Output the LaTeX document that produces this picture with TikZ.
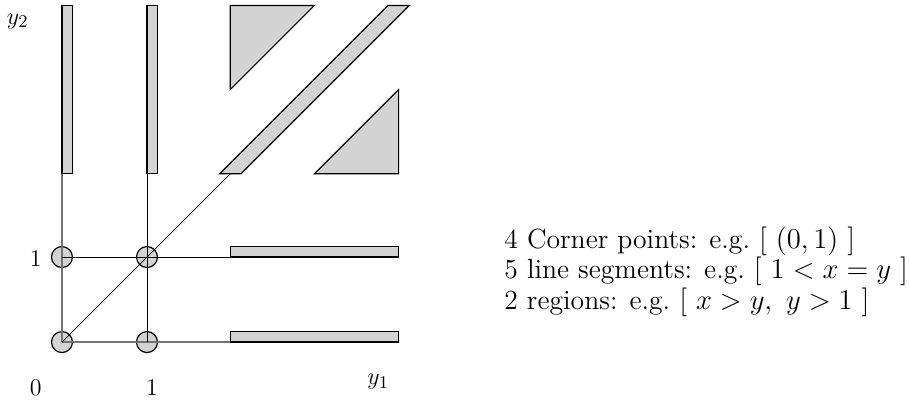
\documentclass[tikz,border=0pt]{standalone}
\definecolor{shade}{RGB}{211,211,211}
\begin{document}
\begin{tikzpicture}[x=1.5cm,y=1.5cm,
  region/.style={draw,fill=shade,line width=0.6pt},
  corner/.style={circle,draw,fill=shade,inner sep=0pt,minimum size=0.37cm,line width=0.6pt},
  axis/.style={draw=black!55,line width=0.6pt},
  every node/.style={font=\fontsize{13}{12.4}\selectfont}]
  \useasboundingbox (-0.729,-0.718) rectangle (9.976,4.024);
  \draw[region] (0,1.98) rectangle (0.12,3.96);
  \draw[region] (1,1.98) rectangle (1.12,3.96);
  \draw[region] (1.98,1) rectangle (3.96,1.12);
  \draw[region] (1.98,0) rectangle (3.96,0.12);
  \draw[region] (1.855,1.98) -- (2.105,1.98) -- (4.085,3.96) -- (3.835,3.96) -- cycle;
  \draw[region] (1.98,3.96) -- (2.97,3.96) -- (1.98,2.97) -- cycle;
  \draw[region] (3.96,2.97) -- (3.96,1.98) -- (2.97,1.98) -- cycle;
  \node[corner] (p00) at (0,0) {};
  \node[corner] (p10) at (1,0) {};
  \node[corner] (p01) at (0,1) {};
  \node[corner] (p11) at (1,1) {};
  \coordinate (up0) at (0,1.98);
  \coordinate (up1) at (1,1.98);
  \coordinate (right0) at (1.98,0);
  \coordinate (right1) at (1.98,1);
  \coordinate (diag) at (1.98,1.98);
  \draw[axis] (p00.center) -- (up0);
  \draw[axis] (p00.center) -- (right0);
  \draw[line width=0.45pt] (p01.center) -- (right1);
  \draw[line width=0.45pt] (p10.center) -- (up1);
  \draw[line width=0.35pt] (p00.center) -- (diag);
  \node (ytwo) at (-0.52,3.77) {$y_2$};
  \node (one) at (-0.31,0.98) {$1$};
  \node (zero) at (-0.31,-0.54) {$0$};
  \node (onex) at (1.06,-0.54) {$1$};
  \node (yone) at (3.72,-0.47) {$y_1$};
  \node[align=left,anchor=west,inner sep=0pt,font=\fontsize{13.9}{12.5}\selectfont] (legend) at (5.2,0.83)
    {4 Corner points: e.g.\ $[\ (0,1)\ ]$\\
     5 line segments: e.g.\ $[\ 1<x=y\ ]$\\
     2 regions: e.g.\ $[\ x>y,\ y>1\ ]$};
\end{tikzpicture}
\end{document}
